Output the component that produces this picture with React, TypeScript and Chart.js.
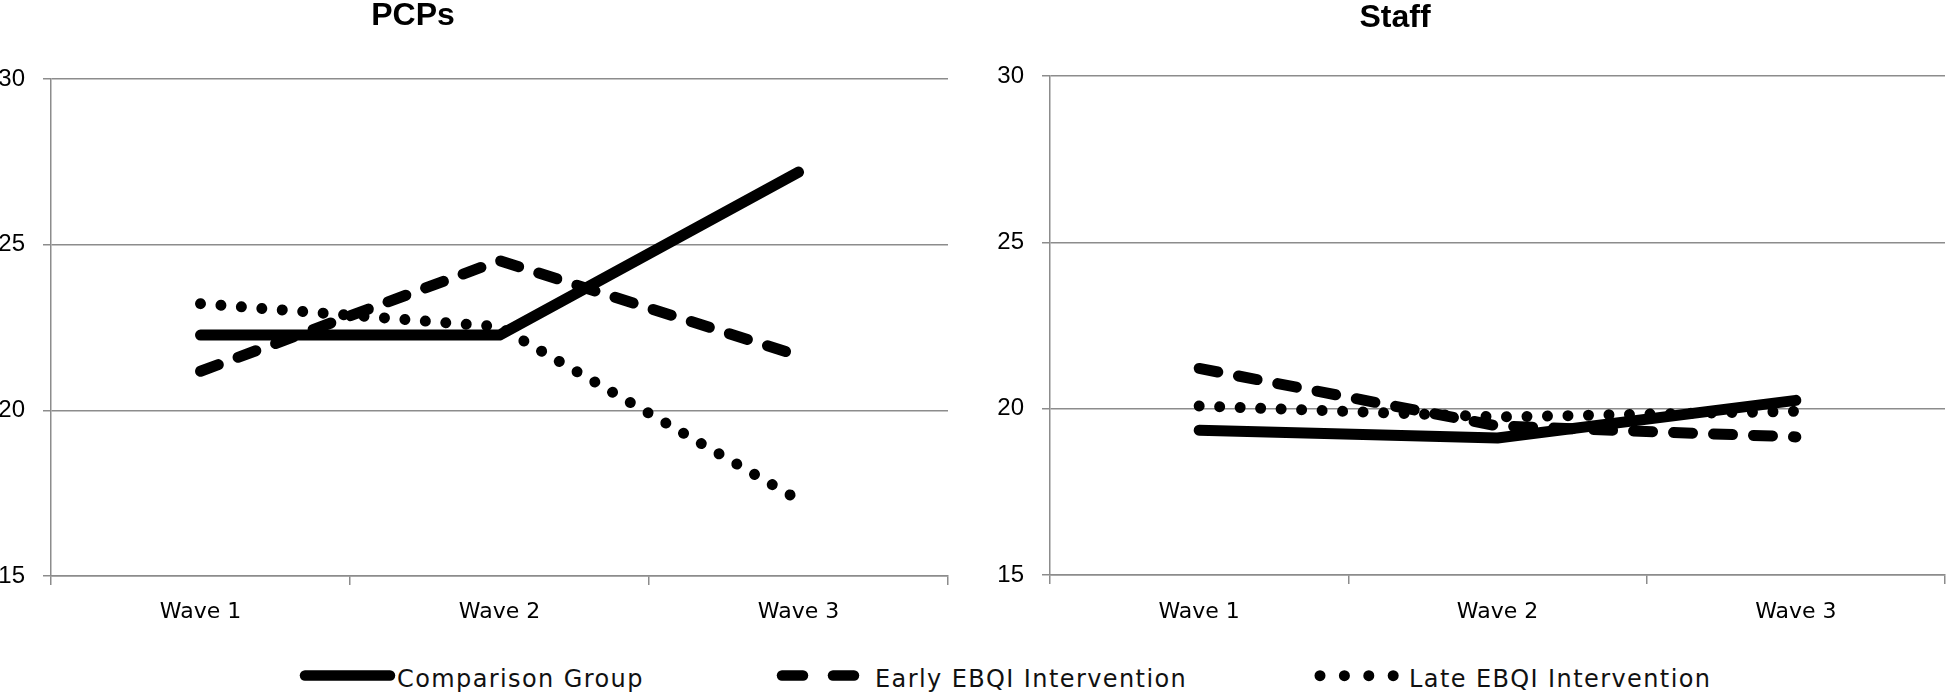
import React, { useEffect, useRef } from "react";
import { Chart, registerables } from "chart.js";

Chart.register(...registerables);

const categories = ["Wave 1", "Wave 2", "Wave 3"];
const seriesNames = ["Comparison Group", "Early EBQI Intervention", "Late EBQI Intervention"];
const titles = ["PCPs", "Staff"];

const pcpComparison = [22.27, 22.27, 27.19];
const pcpEarly = [21.18, 24.52, 21.65];
const pcpLate = [23.22, 22.52, 17.3];

const staffComparison = [19.35, 19.12, 20.25];
const staffEarly = [21.21, 19.48, 19.15];
const staffLate = [20.08, 19.75, 19.92];

const yMin = 15;
const yMax = 30;
const yStep = 5;

const GRID = "#8c8c8c";

const lineStyles = [
  { borderDash: [] as number[], borderWidth: 11 },
  { borderDash: [19, 21], borderWidth: 11 },
  { borderDash: [0.001, 20.5], borderWidth: 11 },
];

type Layout = { top: number; right: number; yAxisW: number; xAxisH: number; xPad: number };

function makeConfig(series: number[][], layout: Layout): any {
  return {
    type: "line",
    data: {
      labels: categories,
      datasets: series.map((values, i) => ({
        label: seriesNames[i],
        data: values,
        borderColor: "#000",
        backgroundColor: "#000",
        borderWidth: lineStyles[i].borderWidth,
        borderDash: lineStyles[i].borderDash,
        borderCapStyle: "round",
        borderJoinStyle: "round",
        pointRadius: 0,
        pointHoverRadius: 0,
        tension: 0,
        fill: false,
      })),
    },
    options: {
      responsive: false,
      animation: false,
      devicePixelRatio: 1,
      layout: { padding: { top: layout.top, right: layout.right, left: 0, bottom: 0 } },
      plugins: {
        legend: { display: false },
        title: { display: false },
        tooltip: { enabled: false },
      },
      scales: {
        x: {
          type: "category",
          offset: true,
          grid: {
            offset: true,
            drawOnChartArea: false,
            drawTicks: true,
            tickLength: 9,
            color: GRID,
            lineWidth: 1.5,
          },
          border: { display: true, color: GRID, width: 1.5 },
          ticks: {
            font: { family: "'DejaVu Sans'", size: 22 },
            color: "#000",
            padding: layout.xPad,
            maxRotation: 0,
            autoSkip: false,
          },
          afterFit: (s: any) => {
            s.height = layout.xAxisH;
          },
        },
        y: {
          min: yMin,
          max: yMax,
          ticks: {
            stepSize: yStep,
            font: { family: "'Liberation Sans'", size: 24 },
            color: "#000",
            padding: 18,
          },
          grid: { color: GRID, lineWidth: 1.5, tickLength: 8, drawTicks: true },
          border: { display: true, color: GRID, width: 1.5 },
          afterFit: (s: any) => {
            s.width = layout.yAxisW;
          },
        },
      },
    },
  };
}

function LineChart(props: { series: number[][]; layout: Layout; left: number; width: number; height: number }) {
  const ref = useRef<HTMLCanvasElement | null>(null);
  useEffect(() => {
    if (!ref.current) return;
    const chart = new Chart(ref.current, makeConfig(props.series, props.layout));
    return () => chart.destroy();
  }, []);
  return (
    <canvas
      ref={ref}
      width={props.width}
      height={props.height}
      style={{ position: "absolute", left: props.left, top: 0, width: props.width, height: props.height }}
    />
  );
}

const titleStyle: React.CSSProperties = {
  position: "absolute",
  width: 200,
  textAlign: "center",
  fontFamily: "'Liberation Sans', Arial, sans-serif",
  fontWeight: "bold",
  fontSize: 32,
  lineHeight: "32px",
  color: "#000",
  whiteSpace: "nowrap",
};

const legendText: React.CSSProperties = {
  position: "absolute",
  top: 667,
  fontFamily: "'DejaVu Sans', sans-serif",
  fontSize: 24,
  lineHeight: "24px",
  letterSpacing: "1.4px",
  color: "#111",
  whiteSpace: "nowrap",
};

export default function App() {
  return (
    <div
      style={{
        position: "fixed",
        left: 0,
        top: 0,
        width: 1947,
        height: 693,
        background: "#fff",
        overflow: "hidden",
      }}
    >
      <LineChart
        series={[pcpComparison, pcpEarly, pcpLate]}
        layout={{ top: 79, right: 12, yAxisW: 51, xAxisH: 64, xPad: 14 }}
        left={0}
        width={960}
        height={640}
      />
      <LineChart
        series={[staffComparison, staffEarly, staffLate]}
        layout={{ top: 76, right: 2, yAxisW: 70, xAxisH: 65, xPad: 15 }}
        left={980}
        width={967}
        height={640}
      />
      <div style={{ ...titleStyle, left: 313, top: -2 }}>{titles[0]}</div>
      <div style={{ ...titleStyle, left: 1295, top: 0 }}>{titles[1]}</div>

      <svg style={{ position: "absolute", left: 0, top: 660, width: 1947, height: 33 }} width={1947} height={33}>
        <line x1={305} y1={15.5} x2={390} y2={15.5} stroke="#000" strokeWidth={10.5} strokeLinecap="round" />
        <line x1={782} y1={15.5} x2={803} y2={15.5} stroke="#000" strokeWidth={10.5} strokeLinecap="round" />
        <line x1={833} y1={15.5} x2={854} y2={15.5} stroke="#000" strokeWidth={10.5} strokeLinecap="round" />
        {[0, 1, 2, 3].map((i) => (
          <circle key={i} cx={1320 + 24.4 * i} cy={15.7} r={5.5} fill="#000" />
        ))}
      </svg>
      <div style={{ ...legendText, left: 397 }}>{seriesNames[0]}</div>
      <div style={{ ...legendText, left: 875 }}>{seriesNames[1]}</div>
      <div style={{ ...legendText, left: 1409 }}>{seriesNames[2]}</div>
    </div>
  );
}
